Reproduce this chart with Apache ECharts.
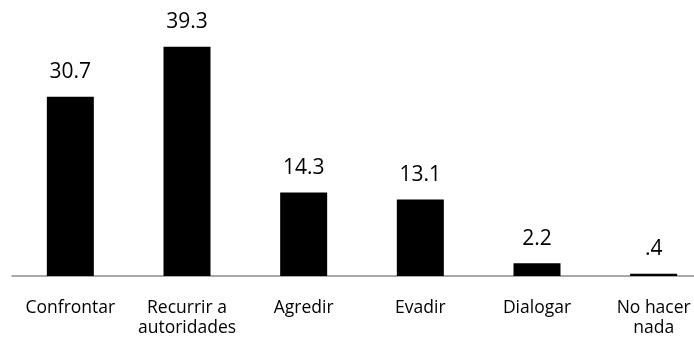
<!DOCTYPE html>
<html><head><meta charset="utf-8">
<script src="https://cdn.jsdelivr.net/npm/echarts@6/dist/echarts.min.js"></script>
<style>html,body{margin:0;padding:0;background:#fff;overflow:hidden}#c{width:720px;height:338px}</style>
</head><body><div id="c"></div>
<script>
var categories = ['Confrontar', 'Recurrir a\nautoridades', 'Agredir', 'Evadir', 'Dialogar', 'No hacer\nnada'];
var values = [30.7, 39.3, 14.3, 13.1, 2.2, 0.4];
var valueLabels = ['30.7', '39.3', '14.3', '13.1', '2.2', '.4'];

var chart = echarts.init(document.getElementById('c'), null, {renderer: 'canvas'});
chart.setOption({
  animation: false,
  grid: {left: 12, top: 42.6, width: 700, height: 233.4, containLabel: false},
  xAxis: {
    type: 'category', data: categories,
    axisLine: {lineStyle: {color: '#8c8c8c', width: 1.5}},
    axisTick: {show: false},
    axisLabel: {color: '#000', fontFamily: 'Open Sans', fontSize: 17.5, lineHeight: 20, margin: 22, interval: 0}
  },
  yAxis: {type: 'value', min: 0, max: 40, show: false, splitLine: {show: false}},
  series: [{
    type: 'bar', data: values, barWidth: 47,
    itemStyle: {color: '#000'},
    label: {
      show: true, position: 'top', distance: 14, color: '#000',
      fontFamily: 'Open Sans', fontSize: 21,
      formatter: function (p) { return valueLabels[p.dataIndex]; }
    }
  }]
});
</script></body></html>
